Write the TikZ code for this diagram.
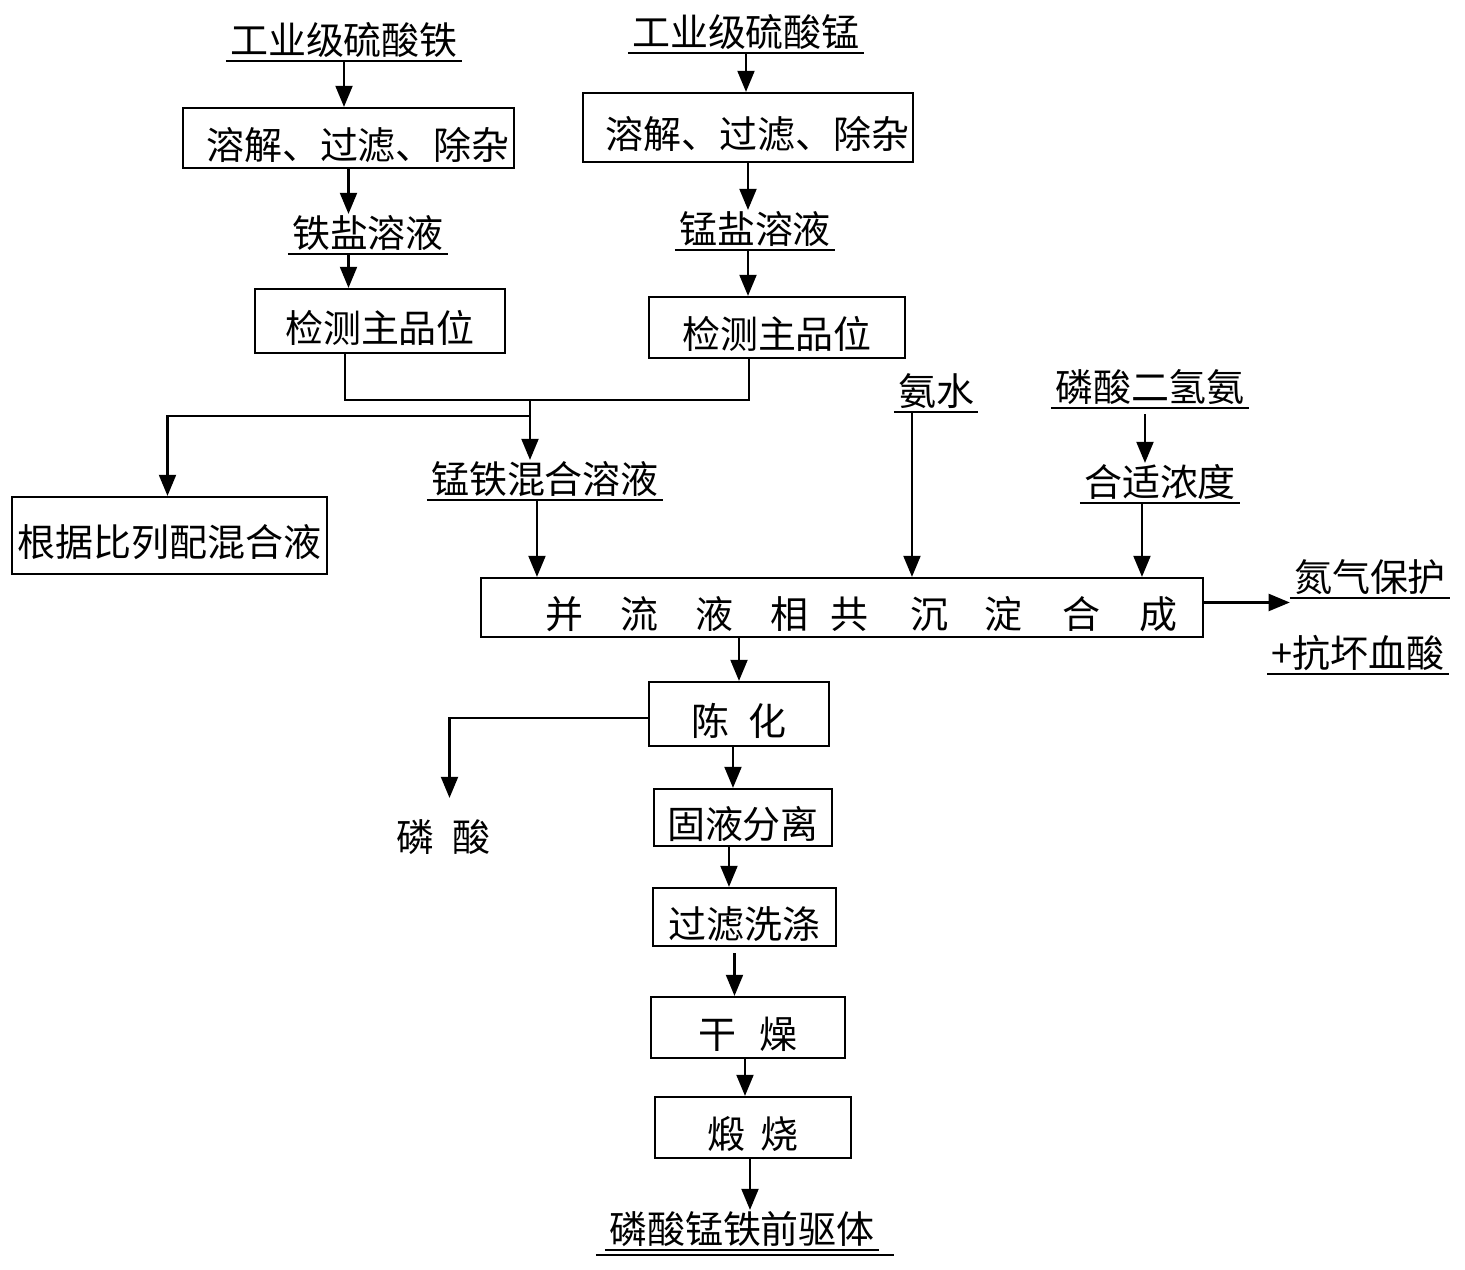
\documentclass[tikz,border=0pt]{standalone}
\usepackage{fontspec}
\setmainfont{Noto Sans CJK SC}
\usepackage{tikz}
\usetikzlibrary{arrows.meta,calc}

\tikzset{
  box/.style={draw,line width=0.6pt,inner sep=0pt,text height=1.2em,text depth=0pt},
  tag/.style={inner xsep=1pt,inner ysep=0.5pt,text height=0.88em,text depth=0.12em},
  arr/.style={line width=0.7pt,-{Triangle[length=6pt,width=4.8pt]}},
}

\begin{document}
\begin{tikzpicture}[x=0.01cm,y=-0.01cm,font=\fontsize{10.8pt}{13pt}\selectfont]
\useasboundingbox (0,0) rectangle (1465,1270);
% iron branch
\node[tag] (feraw) at (344,41) {工业级硫酸铁};
\node[box,minimum width=3.31cm,minimum height=0.60cm] (fedis) at (348.5,138) {\hspace{0.5em}溶解、过滤、除杂};
\node[tag] (fesol) at (368,234) {铁盐溶液};
\node[box,minimum width=2.50cm,minimum height=0.64cm] (fedet) at (380,321) {检测主品位};
% manganese branch
\node[tag] (mnraw) at (746,33) {工业级硫酸锰};
\node[box,minimum width=3.30cm,minimum height=0.69cm] (mndis) at (748,127.5) {\hspace{0.5em}溶解、过滤、除杂};
\node[tag] (mnsol) at (755,230) {锰盐溶液};
\node[box,minimum width=2.56cm,minimum height=0.61cm] (mndet) at (777,327.5) {检测主品位};
% mixing
\node[tag] (mix) at (545,480) {锰铁混合溶液};
\node[box,minimum width=3.15cm,minimum height=0.77cm] (ratio) at (169.5,535.5) {根据比列配混合液};
\node[tag] (nh3) at (936,392) {氨水};
\node[tag] (nh4) at (1150,388) {磷酸二氢氨};
\node[tag] (conc) at (1160,483) {合适浓度};
\node[box,minimum width=7.22cm,minimum height=0.59cm] (syn) at (842,607.5)
  {\hspace{1.05em}并\hspace{0.97em}流\hspace{0.97em}液\hspace{0.97em}相\hspace{0.58em}共\hspace{1.1em}沉\hspace{0.97em}淀\hspace{1.03em}合\hspace{1.05em}成};
\node[tag] (n2) at (1370,578) {氮气保护};
\node[tag] (vc) at (1358,654) {+抗坏血酸};
% after treatment
\node[box,minimum width=1.80cm,minimum height=0.64cm] (age) at (739,714) {陈\hspace{0.5em}化};
\node[tag] (h3po4) at (443.5,838) {磷\hspace{0.45em}酸};
\node[box,minimum width=1.78cm,minimum height=0.57cm] (sep) at (743,817.5) {固液分离};
\node[box,minimum width=1.83cm,minimum height=0.58cm] (wash) at (744.5,917) {过滤洗涤};
\node[box,minimum width=1.94cm,minimum height=0.61cm] (dry) at (748,1027.5) {干\hspace{0.6em}燥};
\node[box,minimum width=1.96cm,minimum height=0.61cm] (cal) at (753,1127.5) {煅\hspace{0.4em}烧};
\node[tag] (prod) at (742,1230) {磷酸锰铁前驱体};

% underlines
\foreach \n in {feraw,mnraw,fesol,mnsol,mix,nh3,nh4,conc,n2,vc,prod}
  \draw[line width=0.5pt] (\n.south west) -- (\n.south east);
\draw[line width=0.8pt] ([shift={(-0.09cm,-0.05cm)}]prod.south west) -- ([shift={(0.15cm,-0.05cm)}]prod.south east);

% joins
\coordinate (jfe) at (345,400);
\coordinate (jmn) at (749,400);
\coordinate (join) at (530,400);
\coordinate (split) at (530,416);

\draw[arr] (feraw.south) -- (feraw.south |- fedis.north);
\draw[arr] (fedis.south) -- (fedis.south |- fesol.north);
\draw[arr] (fedis.south |- fesol.south) -- (fedis.south |- fedet.north);
\draw[arr] (mnraw.south) -- (mnraw.south |- mndis.north);
\draw[arr] (mndis.south) -- (mndis.south |- mnsol.north);
\draw[arr] (mndis.south |- mnsol.south) -- (mndis.south |- mndet.north);
\draw[line width=0.7pt] (fedet.south -| jfe) -- (jfe) -- (jmn) -- (mndet.south -| jmn);
\draw[arr] (join) -- (join |- mix.north);
\draw[arr] (split) -| ([xshift=-0.02cm]ratio.north);
\draw[arr] ([xshift=-0.08cm]mix.south) -- ([xshift=-0.08cm]mix.south |- syn.north);
\draw[arr] ([xshift=-0.24cm]nh3.south) -- ([xshift=-0.24cm]nh3.south |- syn.north);
\draw[arr] ([xshift=-0.05cm,yshift=-0.06cm]nh4.south) -- ([xshift=-0.05cm]nh4.south |- conc.north);
\draw[arr] ([xshift=-0.18cm]conc.south) -- ([xshift=-0.18cm]conc.south |- syn.north);
\draw[arr] ([yshift=0.05cm]syn.east) -- ([yshift=0.05cm]syn.east -| n2.west);
\draw[arr] (age.north |- syn.south) -- (age.north);
\draw[arr] ([yshift=-0.04cm]age.west) -| ([xshift=0.06cm,yshift=0.2cm]h3po4.north);
\draw[arr] ([xshift=-0.06cm]age.south) -- ([xshift=-0.06cm]age.south |- sep.north);
\draw[arr] ([xshift=-0.14cm]sep.south) -- ([xshift=-0.14cm]sep.south |- wash.north);
\draw[arr] ([xshift=-0.1cm,yshift=-0.06cm]wash.south) -- ([xshift=-0.1cm]wash.south |- dry.north);
\draw[arr] ([xshift=-0.03cm]dry.south) -- ([xshift=-0.03cm]dry.south |- cal.north);
\draw[arr] ([xshift=-0.03cm]cal.south) -- ([xshift=-0.03cm]cal.south |- prod.north);
\end{tikzpicture}
\end{document}
